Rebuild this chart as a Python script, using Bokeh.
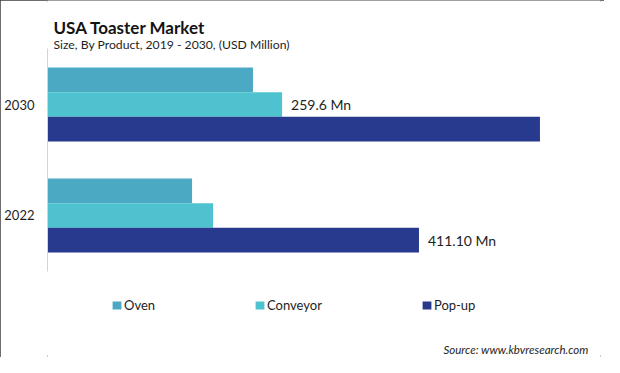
from bokeh.plotting import figure
from bokeh.models import (Range1d, Label, Legend, LegendItem, ColumnDataSource,
                          FixedTicker)
from bokeh.transform import dodge
from bokeh.core.properties import value
from bokeh.embed import file_html
from bokeh.resources import INLINE

# ---- data -------------------------------------------------------------
years = ["2022", "2030"]
segments = ["Oven", "Conveyor", "Pop-up"]
oven = [160.0, 227.4]
conveyor = [183.2, 259.6]
popup = [411.1, 545.0]
colors = ["#4BA9C4", "#4EC3CF", "#283A8D"]
annot_year = ["2030", "2022"]
annot_segment = ["Conveyor", "Pop-up"]
annot_text = ["259.6 Mn", "411.10 Mn"]

title_text = "USA Toaster Market"
subtitle_text = "Size, By Product, 2019 - 2030, (USD Million)"
source_text = "Source: www.kbvresearch.com"

FONT = "Lato"
TXT = "#1e1e1e"

# ---- layout constants (pixels) ---------------------------------------
W, H = 604, 357
LEFT = 47            # frame left (axis line)
AX_TOP, AX_BOT = 48, 271   # extent of the category axis line
PAD = 0.505          # category padding (units) inside the axis extent
ppu = (AX_BOT - AX_TOP) / (1 + 2 * PAD)
y_top = 1 + PAD + AX_TOP / ppu
y_bot = -PAD - (H - AX_BOT) / ppu

ypos = list(range(len(years)))
data = {"y": ypos, "Oven": oven, "Conveyor": conveyor, "Pop-up": popup}
src = ColumnDataSource(data)

p = figure(width=W, height=H, output_backend="svg", toolbar_location=None,
           x_range=Range1d(0, 612), y_range=Range1d(y_bot, y_top),
           x_axis_location=None,
           min_border_left=LEFT, min_border_right=4, min_border_top=0,
           min_border_bottom=0)
p.outline_line_color = None
p.xgrid.visible = False
p.ygrid.visible = False
p.styles = {"outline": "2px solid #3c3c3c", "outline-offset": "-2px"}

bar_h = 0.222
offsets = [bar_h, 0.0, -bar_h]
renderers = []
for seg, off, col in zip(segments, offsets, colors):
    r = p.hbar(y=dodge("y", off, range=p.y_range), left=0, right=seg,
               height=bar_h, source=src, fill_color=col, line_color=None)
    renderers.append(r)

ax = p.yaxis[0]
ax.ticker = FixedTicker(ticks=ypos)
ax.bounds = (ypos[0] - PAD, ypos[-1] + PAD)
ax.major_label_overrides = {i: y for i, y in zip(ypos, years)}
ax.major_tick_line_color = None
ax.minor_tick_line_color = None
ax.major_tick_out = 0
ax.major_tick_in = 0
ax.major_label_standoff = 13
ax.axis_line_color = "#d4d4d4"
ax.major_label_text_font = FONT
ax.major_label_text_font_size = "13px"
ax.major_label_text_color = TXT

# value annotations
lab_x, lab_y = [], []
for yr, seg in zip(annot_year, annot_segment):
    i = years.index(yr)
    lab_x.append(data[seg][i])
    lab_y.append(ypos[i] + offsets[segments.index(seg)])
lab_src = ColumnDataSource({"x": lab_x, "y": lab_y, "t": annot_text})
p.text(x="x", y="y", text="t", source=lab_src, x_offset=9,
       text_baseline="middle", text_align="left",
       text_font=value(FONT), text_font_size="14px", text_color=TXT)

# titles
p.add_layout(Label(x=6, y=H - 27, x_units="screen", y_units="screen",
                   text=title_text, text_font=FONT, text_font_size="17px",
                   text_font_style="bold", text_color="#141414",
                   text_baseline="alphabetic"))
p.add_layout(Label(x=6, y=H - 43.5, x_units="screen", y_units="screen",
                   text=subtitle_text, text_font=FONT, text_font_size="12.2px",
                   text_color=TXT, text_baseline="alphabetic"))
p.add_layout(Label(x=588 - LEFT, y=H - 349, x_units="screen", y_units="screen",
                   text=source_text, text_font=FONT, text_font_size="11.5px",
                   text_font_style="italic", text_color=TXT,
                   text_align="right", text_baseline="alphabetic"))

legend = Legend(items=[LegendItem(label=s, renderers=[r])
                       for s, r in zip(segments, renderers)],
                orientation="horizontal", location=(64, H - 313),
                spacing=99, glyph_width=11, glyph_height=10, label_height=10,
                label_standoff=2, padding=0, margin=0,
                border_line_color=None, background_fill_alpha=0,
                label_text_font=FONT, label_text_font_size="13px",
                label_text_color=TXT)
p.add_layout(legend, "center")

open("out.html", "w").write(file_html(p, INLINE))
